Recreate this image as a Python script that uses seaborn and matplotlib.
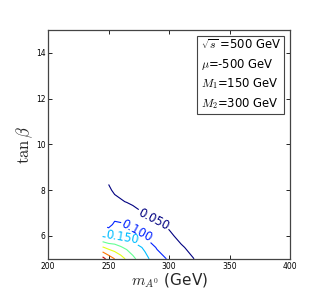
import numpy as np
import seaborn as sns
import matplotlib
matplotlib.use("Agg")
import matplotlib.pyplot as plt
from matplotlib.colors import Normalize

# grid (m_A in GeV, tan(beta)), values estimated from contour crossings
m_A = [245, 250, 255, 260, 265, 270, 275, 280, 290, 300, 310, 320, 330, 400]
tan_beta = [5.0, 5.5, 6.0, 6.5, 7.0, 7.5, 8.0, 8.5, 9.0, 15.0]
nan = np.nan
sigma = [
    [0.370, 0.330, 0.300, 0.272, 0.242, 0.212, 0.187, 0.164, 0.124, 0.093, 0.071, 0.051, 0.035, 0.0],
    [0.255, 0.235, 0.222, 0.205, 0.190, 0.173, 0.158, 0.142, 0.095, 0.079, 0.054, 0.040, 0.028, 0.0],
    [0.145, 0.135, 0.145, 0.148, 0.137, 0.122, 0.108, 0.095, 0.073, 0.057, 0.040, 0.030, 0.022, 0.0],
    [nan,   0.086, 0.108, 0.106, 0.100, 0.093, 0.085, 0.078, 0.052, 0.044, 0.033, 0.025, 0.018, 0.0],
    [nan,   0.075, 0.080, 0.072, 0.064, 0.058, 0.053, 0.049, 0.042, 0.035, 0.027, 0.020, 0.015, 0.0],
    [nan,   0.062, 0.055, 0.052, 0.049, 0.046, 0.043, 0.040, 0.035, 0.030, 0.023, 0.017, 0.013, 0.0],
    [nan,   0.053, 0.047, 0.044, 0.042, 0.040, 0.038, 0.035, 0.031, 0.026, 0.020, 0.015, 0.011, 0.0],
    [nan,   0.047, 0.043, 0.040, 0.038, 0.036, 0.034, 0.031, 0.028, 0.023, 0.018, 0.014, 0.010, 0.0],
    [nan,   0.040, 0.038, 0.036, 0.034, 0.032, 0.030, 0.028, 0.025, 0.021, 0.017, 0.013, 0.010, 0.0],
    [nan,   0.005, 0.005, 0.005, 0.005, 0.005, 0.005, 0.005, 0.005, 0.005, 0.005, 0.005, 0.004, 0.0],
]
levels = [0.05, 0.10, 0.15, 0.20, 0.25, 0.30, 0.35]
labelled = [0.05, 0.10, 0.15]
info = [r"$\sqrt{s}$ =500 GeV", r"$\mu$=-500 GeV", r"$M_1$=150 GeV", r"$M_2$=300 GeV"]

sns.set_theme(style="white")
plt.rcParams["mathtext.fontset"] = "cm"
plt.rcParams["xtick.direction"] = "in"
plt.rcParams["ytick.direction"] = "in"
plt.rcParams["text.color"] = "black"

fig = plt.figure(figsize=(3.23, 3.06), dpi=100)
ax = fig.add_axes([0.149, 0.154, 0.749, 0.748])

Z = np.ma.masked_invalid(np.array(sigma))
cmap = matplotlib.colormaps["jet"]
cs = ax.contour(m_A, tan_beta, Z, levels=levels, cmap=cmap,
                norm=Normalize(0.05, 0.37), linewidths=0.8)
ax.clabel(cs, levels=labelled, fmt="%.3f", fontsize=8.5, inline=True,
          manual=[(287, 6.7), (272, 6.1), (261, 5.9)])

ax.set_xlim(200, 400)
ax.set_ylim(5, 15)
ax.set_xticks([200, 250, 300, 350, 400])
ax.set_yticks([6, 8, 10, 12, 14])
ax.tick_params(labelsize=5.5, length=3, width=0.6, top=True, right=True,
               bottom=True, left=True, pad=2, colors="black")
for s in ax.spines.values():
    s.set_color("#444444")
    s.set_linewidth(0.9)

ax.set_xlabel(r"$m_{A^0}$ (GeV)", fontsize=11, labelpad=1)
ax.set_ylabel(r"$\tan\beta$", fontsize=12)
ax.yaxis.set_label_coords(-0.055, 0.5)

ax.text(0.63, 0.962, "\n".join(info), transform=ax.transAxes,
        ha="left", va="top", fontsize=8.4, linespacing=1.4,
        bbox=dict(boxstyle="square,pad=0.3", fc="white", ec="#444444", lw=0.8))

fig.savefig("out.png", dpi=100)
